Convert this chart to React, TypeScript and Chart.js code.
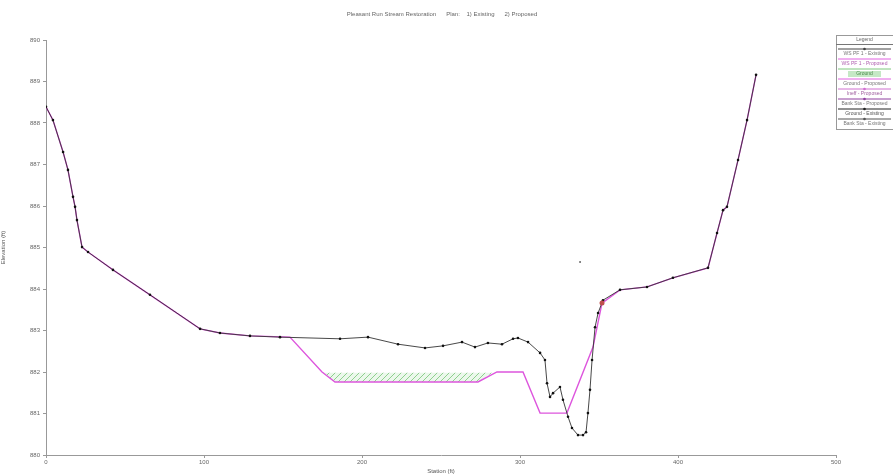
import React, { useEffect, useRef } from "react";
import { Chart, registerables } from "chart.js";

Chart.register(...registerables);

const titleText = "Pleasant Run Stream Restoration      Plan:    1) Existing      2) Proposed";
const xTicks = [0, 100, 200, 300, 400, 500];
const yMin = 880;
const yMax = 890;

const existingStation = [0, 4.4, 10.8, 13.9, 17.1, 18.4, 19.6, 22.8, 26.6, 42.4, 65.8, 97.5, 110.1, 129.1, 148.1, 186.1, 203.8, 222.8, 239.9, 251.3, 263.3, 271.5, 279.7, 288.6, 295.6, 298.7, 305.1, 312.7, 315.8, 317.1, 319.0, 320.9, 325.3, 327.2, 330.4, 332.9, 336.7, 339.9, 341.8, 343.0, 344.3, 345.6, 347.5, 349.4, 352.5, 363.3, 380.4, 396.8, 419.0, 424.7, 428.5, 431.0, 438.0, 443.7, 449.4];
const existingElev = [888.39, 888.07, 887.3, 886.87, 886.22, 885.98, 885.66, 885.01, 884.89, 884.46, 883.86, 883.04, 882.94, 882.87, 882.84, 882.8, 882.84, 882.67, 882.58, 882.63, 882.72, 882.6, 882.7, 882.67, 882.8, 882.82, 882.72, 882.46, 882.29, 881.73, 881.4, 881.49, 881.64, 881.33, 880.92, 880.65, 880.48, 880.48, 880.55, 881.01, 881.57, 882.29, 883.08, 883.42, 883.73, 883.98, 884.05, 884.27, 884.51, 885.35, 885.9, 885.98, 887.11, 888.07, 889.16];

const proposedStation = [0, 4.4, 10.8, 13.9, 17.1, 18.4, 19.6, 22.8, 26.6, 42.4, 65.8, 97.5, 110.1, 129.1, 154.4, 174.7, 182.9, 273.4, 285.4, 301.9, 312.7, 329.7, 346.2, 351.9, 363.3, 380.4, 396.8, 419.0, 424.7, 428.5, 431.0, 438.0, 443.7, 449.4];
const proposedElev = [888.39, 888.07, 887.3, 886.87, 886.22, 885.98, 885.66, 885.01, 884.89, 884.46, 883.86, 883.04, 882.94, 882.87, 882.84, 882.0, 881.76, 881.76, 882.0, 882.0, 881.01, 881.01, 882.6, 883.66, 883.98, 884.05, 884.27, 884.51, 885.35, 885.9, 885.98, 887.11, 888.07, 889.16];

const wsStation = [175.3, 282.5];
const wsElev = 881.98;

const bankStation = [351.9];
const bankElev = [883.66];

const strayStation = [338.0];
const strayElev = [884.65];

const legendLabels = ["Legend", "WS PF 1 - Existing", "WS PF 1 - Proposed", "Ground", "Ground - Proposed", "Ineff - Proposed", "Bank Sta - Proposed", "Ground - Existing", "Bank Sta - Existing"];

function makeHatch(): CanvasPattern | string {
  const c = document.createElement("canvas");
  c.width = 6;
  c.height = 6;
  const g = c.getContext("2d");
  if (!g) return "rgba(150,210,150,0.5)";
  g.clearRect(0, 0, 6, 6);
  g.fillStyle = "rgba(235,248,235,1)";
  g.fillRect(0, 0, 6, 6);
  g.strokeStyle = "#8fd08f";
  g.lineWidth = 1;
  g.beginPath();
  g.moveTo(0, 6);
  g.lineTo(6, 0);
  g.stroke();
  return g.createPattern(c, "repeat") || "rgba(150,210,150,0.5)";
}

export default function App() {
  const ref = useRef<HTMLCanvasElement | null>(null);

  useEffect(() => {
    if (!ref.current) return;
    const existing = existingStation.map((x, i) => ({ x, y: existingElev[i] }));
    const proposed = proposedStation.map((x, i) => ({ x, y: proposedElev[i] }));
    const wsPoly = [
      { x: wsStation[0], y: wsElev },
      { x: wsStation[1], y: wsElev },
      ...proposed.filter((p) => p.x > wsStation[0] && p.x < wsStation[1]).reverse(),
    ];
    const hatch = makeHatch();

    const overlay = {
      id: "overlay",
      afterDraw(chart: any) {
        const ctx = chart.ctx;
        ctx.save();
        ctx.fillStyle = "#666";
        ctx.font = "6px 'Liberation Sans', Arial, sans-serif";
        ctx.textAlign = "center";
        ctx.textBaseline = "middle";
        ctx.fillText(titleText, 442, 14);

        // legend
        const lx = 836, ly = 35, lw = 57, lh = 94;
        ctx.strokeStyle = "#999";
        ctx.lineWidth = 1;
        ctx.strokeRect(lx + 0.5, ly + 0.5, lw, lh);
        ctx.font = "5px 'Liberation Sans', Arial, sans-serif";
        ctx.fillStyle = "#666";
        ctx.fillText(legendLabels[0], lx + lw / 2, ly + 5);
        ctx.strokeStyle = "#777";
        ctx.beginPath();
        ctx.moveTo(lx, ly + 9.5);
        ctx.lineTo(lx + lw, ly + 9.5);
        ctx.stroke();
        const styles = [
          { c: "#444", dot: true, tc: "#777" },
          { c: "#e060e0", dot: false, tc: "#b060b0" },
          { c: "#7ec87e", dot: false, tc: "#4a8a4a", bg: "rgba(140,210,140,0.5)" },
          { c: "#e060e0", dot: false, tc: "#777" },
          { c: "#d070d0", dot: true, tc: "#a060a0" },
          { c: "#9040a0", dot: true, tc: "#777" },
          { c: "#222", dot: true, tc: "#555" },
          { c: "#555", dot: true, tc: "#777" },
        ];
        let y = ly + 14;
        for (let i = 1; i < legendLabels.length; i++) {
          const s = styles[i - 1];
          ctx.strokeStyle = s.c;
          ctx.beginPath();
          ctx.moveTo(lx + 2, y);
          ctx.lineTo(lx + lw - 2, y);
          ctx.stroke();
          if (s.dot) {
            ctx.fillStyle = s.c;
            ctx.beginPath();
            ctx.arc(lx + lw / 2, y, 1.3, 0, Math.PI * 2);
            ctx.fill();
          }
          if (s.bg) {
            ctx.fillStyle = s.bg;
            ctx.fillRect(lx + 12, y + 2, lw - 24, 6);
          }
          ctx.fillStyle = s.tc;
          ctx.fillText(legendLabels[i], lx + lw / 2, y + 5);
          y += 10;
        }
        ctx.restore();
      },
    };

    const chart = new Chart(ref.current, {
      type: "scatter",
      data: {
        datasets: [
          {
            label: "WS PF 1 - Proposed",
            data: wsPoly,
            showLine: true,
            borderWidth: 0,
            borderColor: "rgba(0,0,0,0)",
            backgroundColor: hatch as any,
            fill: "shape" as any,
            pointRadius: 0,
            order: 4,
          },
          {
            label: "Ground - Proposed",
            data: proposed,
            showLine: true,
            borderColor: "#dd55dd",
            borderWidth: 1.4,
            pointRadius: 0,
            order: 3,
          },
          {
            label: "Ground - Existing",
            data: existing,
            showLine: true,
            borderColor: "#333",
            borderWidth: 0.9,
            pointRadius: 1.3,
            pointBackgroundColor: "#111",
            pointBorderWidth: 0,
            order: 2,
          },
          {
            label: "Bank Sta - Proposed",
            data: bankStation.map((x, i) => ({ x, y: bankElev[i] })),
            showLine: false,
            pointRadius: 2.5,
            pointBackgroundColor: "#c0504d",
            pointBorderWidth: 0,
            order: 1,
          },
          {
            label: "stray",
            data: strayStation.map((x, i) => ({ x, y: strayElev[i] })),
            showLine: false,
            pointRadius: 1,
            pointBackgroundColor: "#666",
            pointBorderWidth: 0,
            order: 1,
          },
        ],
      },
      options: {
        animation: false,
        responsive: true,
        maintainAspectRatio: false,
        layout: { padding: { top: 40, right: 57, bottom: 0, left: 0 } },
        plugins: {
          legend: { display: false },
          title: { display: false },
          tooltip: { enabled: false },
        },
        scales: {
          x: {
            type: "linear",
            min: xTicks[0],
            max: xTicks[xTicks.length - 1],
            afterBuildTicks: (s: any) => {
              s.ticks = xTicks.map((v) => ({ value: v }));
            },
            afterFit: (s: any) => {
              s.height = 20;
            },
            border: { display: true, color: "#999", width: 1 },
            grid: { display: true, drawOnChartArea: false, tickLength: 3, color: "#999" },
            ticks: {
              color: "#666",
              font: { size: 6, family: "'Liberation Sans', Arial, sans-serif" },
              padding: 1,
              maxRotation: 0,
            },
            title: {
              display: true,
              text: "Station (ft)",
              color: "#555",
              font: { size: 6, family: "'Liberation Sans', Arial, sans-serif" },
              padding: { top: 0, bottom: 0 },
            },
          },
          y: {
            type: "linear",
            min: yMin,
            max: yMax,
            ticks: {
              stepSize: 1,
              color: "#666",
              font: { size: 6, family: "'Liberation Sans', Arial, sans-serif" },
              padding: 3,
            },
            afterFit: (s: any) => {
              s.width = 46;
            },
            border: { display: true, color: "#999", width: 1 },
            grid: { display: true, drawOnChartArea: false, tickLength: 3, color: "#999" },
            title: {
              display: true,
              text: "Elevation (ft)",
              color: "#555",
              font: { size: 6, family: "'Liberation Sans', Arial, sans-serif" },
              padding: { top: 0, bottom: 0 },
            },
          },
        },
      },
      plugins: [overlay],
    });
    return () => chart.destroy();
  }, []);

  return (
    <div style={{ position: "fixed", left: 0, top: 0, width: 893, height: 475, background: "#fff" }}>
      <canvas ref={ref} />
    </div>
  );
}
